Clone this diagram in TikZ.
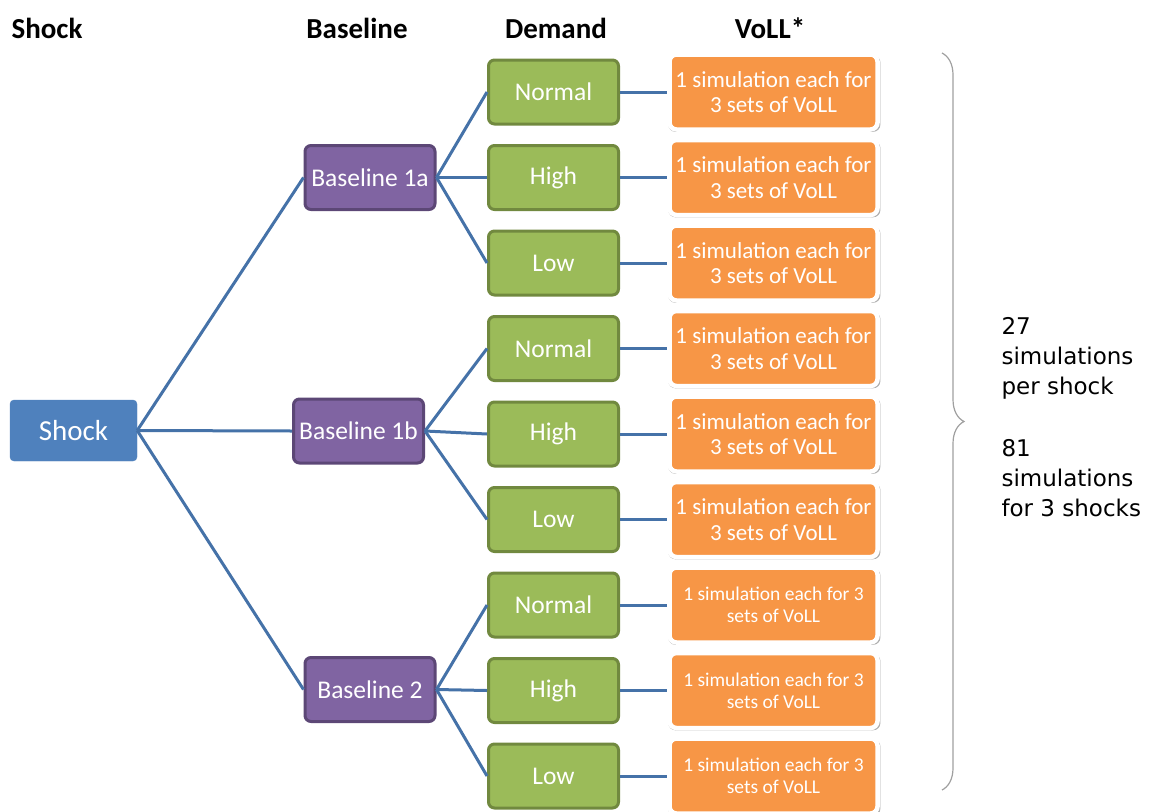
\documentclass[tikz,border=0pt]{standalone}
\usepackage{fontspec}
\setmainfont{Carlito}
\newfontfamily\labfont{DejaVu Sans}
\usetikzlibrary{shadows,decorations.pathreplacing}
\definecolor{cshock}{HTML}{4F81BD}
\definecolor{cbase}{HTML}{8064A2}
\definecolor{cbaseb}{HTML}{5C4776}
\definecolor{cdem}{HTML}{9BBB59}
\definecolor{cdemb}{HTML}{71893F}
\definecolor{cvoll}{HTML}{F79646}
\definecolor{cline}{HTML}{4572A8}
\definecolor{cbrace}{HTML}{A0A0A0}
\tikzset{
  hdr/.style={font=\fontsize{29}{34}\selectfont\bfseries, anchor=center},
  shockbox/.style={fill=cshock, draw=cshock, rounded corners=4pt, minimum width=127pt, minimum height=61pt, text=white, font=\fontsize{29}{34}\selectfont},
  basebox/.style={fill=cbase, draw=cbaseb, line width=3pt, rounded corners=6pt, minimum width=130pt, minimum height=64pt, text=white, font=\fontsize{25.5}{30}\selectfont, inner sep=0pt},
  dembox/.style={fill=cdem, draw=cdemb, line width=3pt, rounded corners=6pt, minimum width=130pt, minimum height=64pt, text=white, font=\fontsize{25.5}{30}\selectfont},
  vollbox/.style={fill=cvoll, draw=white, line width=4.5pt, rounded corners=7pt, minimum width=208pt, minimum height=75pt, text=white, align=center, inner sep=0pt,
     drop shadow={shadow xshift=0.8pt, shadow yshift=-1.5pt, shadow scale=1.02, opacity=0.45, fill=black!70}},
  vollA/.style={vollbox, font=\fontsize{23}{25.5}\selectfont},
  vollB/.style={vollbox, font=\fontsize{19.5}{22}\selectfont},
  conn/.style={draw=cline, line width=3pt},
}
\begin{document}
\begin{tikzpicture}[x=1pt,y=-1pt]
\useasboundingbox (0,0) rectangle (1153,811);
% headers
\node[hdr] (hshock) at (47,28) {Shock};
\node[hdr] (hbase) at (357,28) {Baseline};
\node[hdr] (hdem) at (556,28) {Demand};
\node[hdr] (hvoll) at (770,28) {VoLL*};
% shock
\node[shockbox] (shock) at (73.5,430.5) {Shock};
% baselines
\node[basebox] (b1) at (370,177.5) {Baseline 1a};
\node[basebox] (b2) at (358.5,431) {Baseline 1b};
\node[basebox] (b3) at (370,689.5) {Baseline 2};
% demand
\foreach \i/\t/\y in {1/Normal/92, 2/High/177.5, 3/Low/263, 4/Normal/348.5, 5/High/434, 6/Low/519.5, 7/Normal/605, 8/High/690.5, 9/Low/776}{
  \node[dembox] (d\i) at (553.5,\y) {\t};
}
\foreach \i/\y in {1/92, 2/177.5, 3/263, 4/348.5, 5/434, 6/519.5}{
  \node[vollA] (v\i) at (773.5,\y) {1 simulation each for\\3 sets of VoLL};
}
\foreach \i/\y in {7/605, 8/690.5, 9/776}{
  \node[vollB] (v\i) at (773.5,\y) {1 simulation each for 3\\sets of VoLL};
}
% connectors
\foreach \b in {b1,b2,b3}{ \draw[conn] (shock.east) -- (\b.west); }
\foreach \i in {1,2,3}{ \draw[conn] (b1.east) -- (d\i.west); }
\foreach \i in {4,5,6}{ \draw[conn] (b2.east) -- (d\i.west); }
\foreach \i in {7,8,9}{ \draw[conn] (b3.east) -- (d\i.west); }
\foreach \i in {1,...,9}{ \draw[conn] (d\i.east) -- (v\i.west); }
% brace
\coordinate (btop) at (942,53);
\coordinate (bbot) at (942,790);
\draw[cbrace, line width=1.2pt, decorate, decoration={brace, amplitude=22pt, aspect=0.5}] (btop) -- (bbot);
\node[anchor=north west, align=left, font=\labfont\fontsize{23}{30}\selectfont] (l1) at (998,314) {27\\simulations\\per shock};
\node[anchor=north west, align=left, font=\labfont\fontsize{23}{30}\selectfont] (l2) at (998,436) {81\\simulations\\for 3 shocks};
\end{tikzpicture}
\end{document}
